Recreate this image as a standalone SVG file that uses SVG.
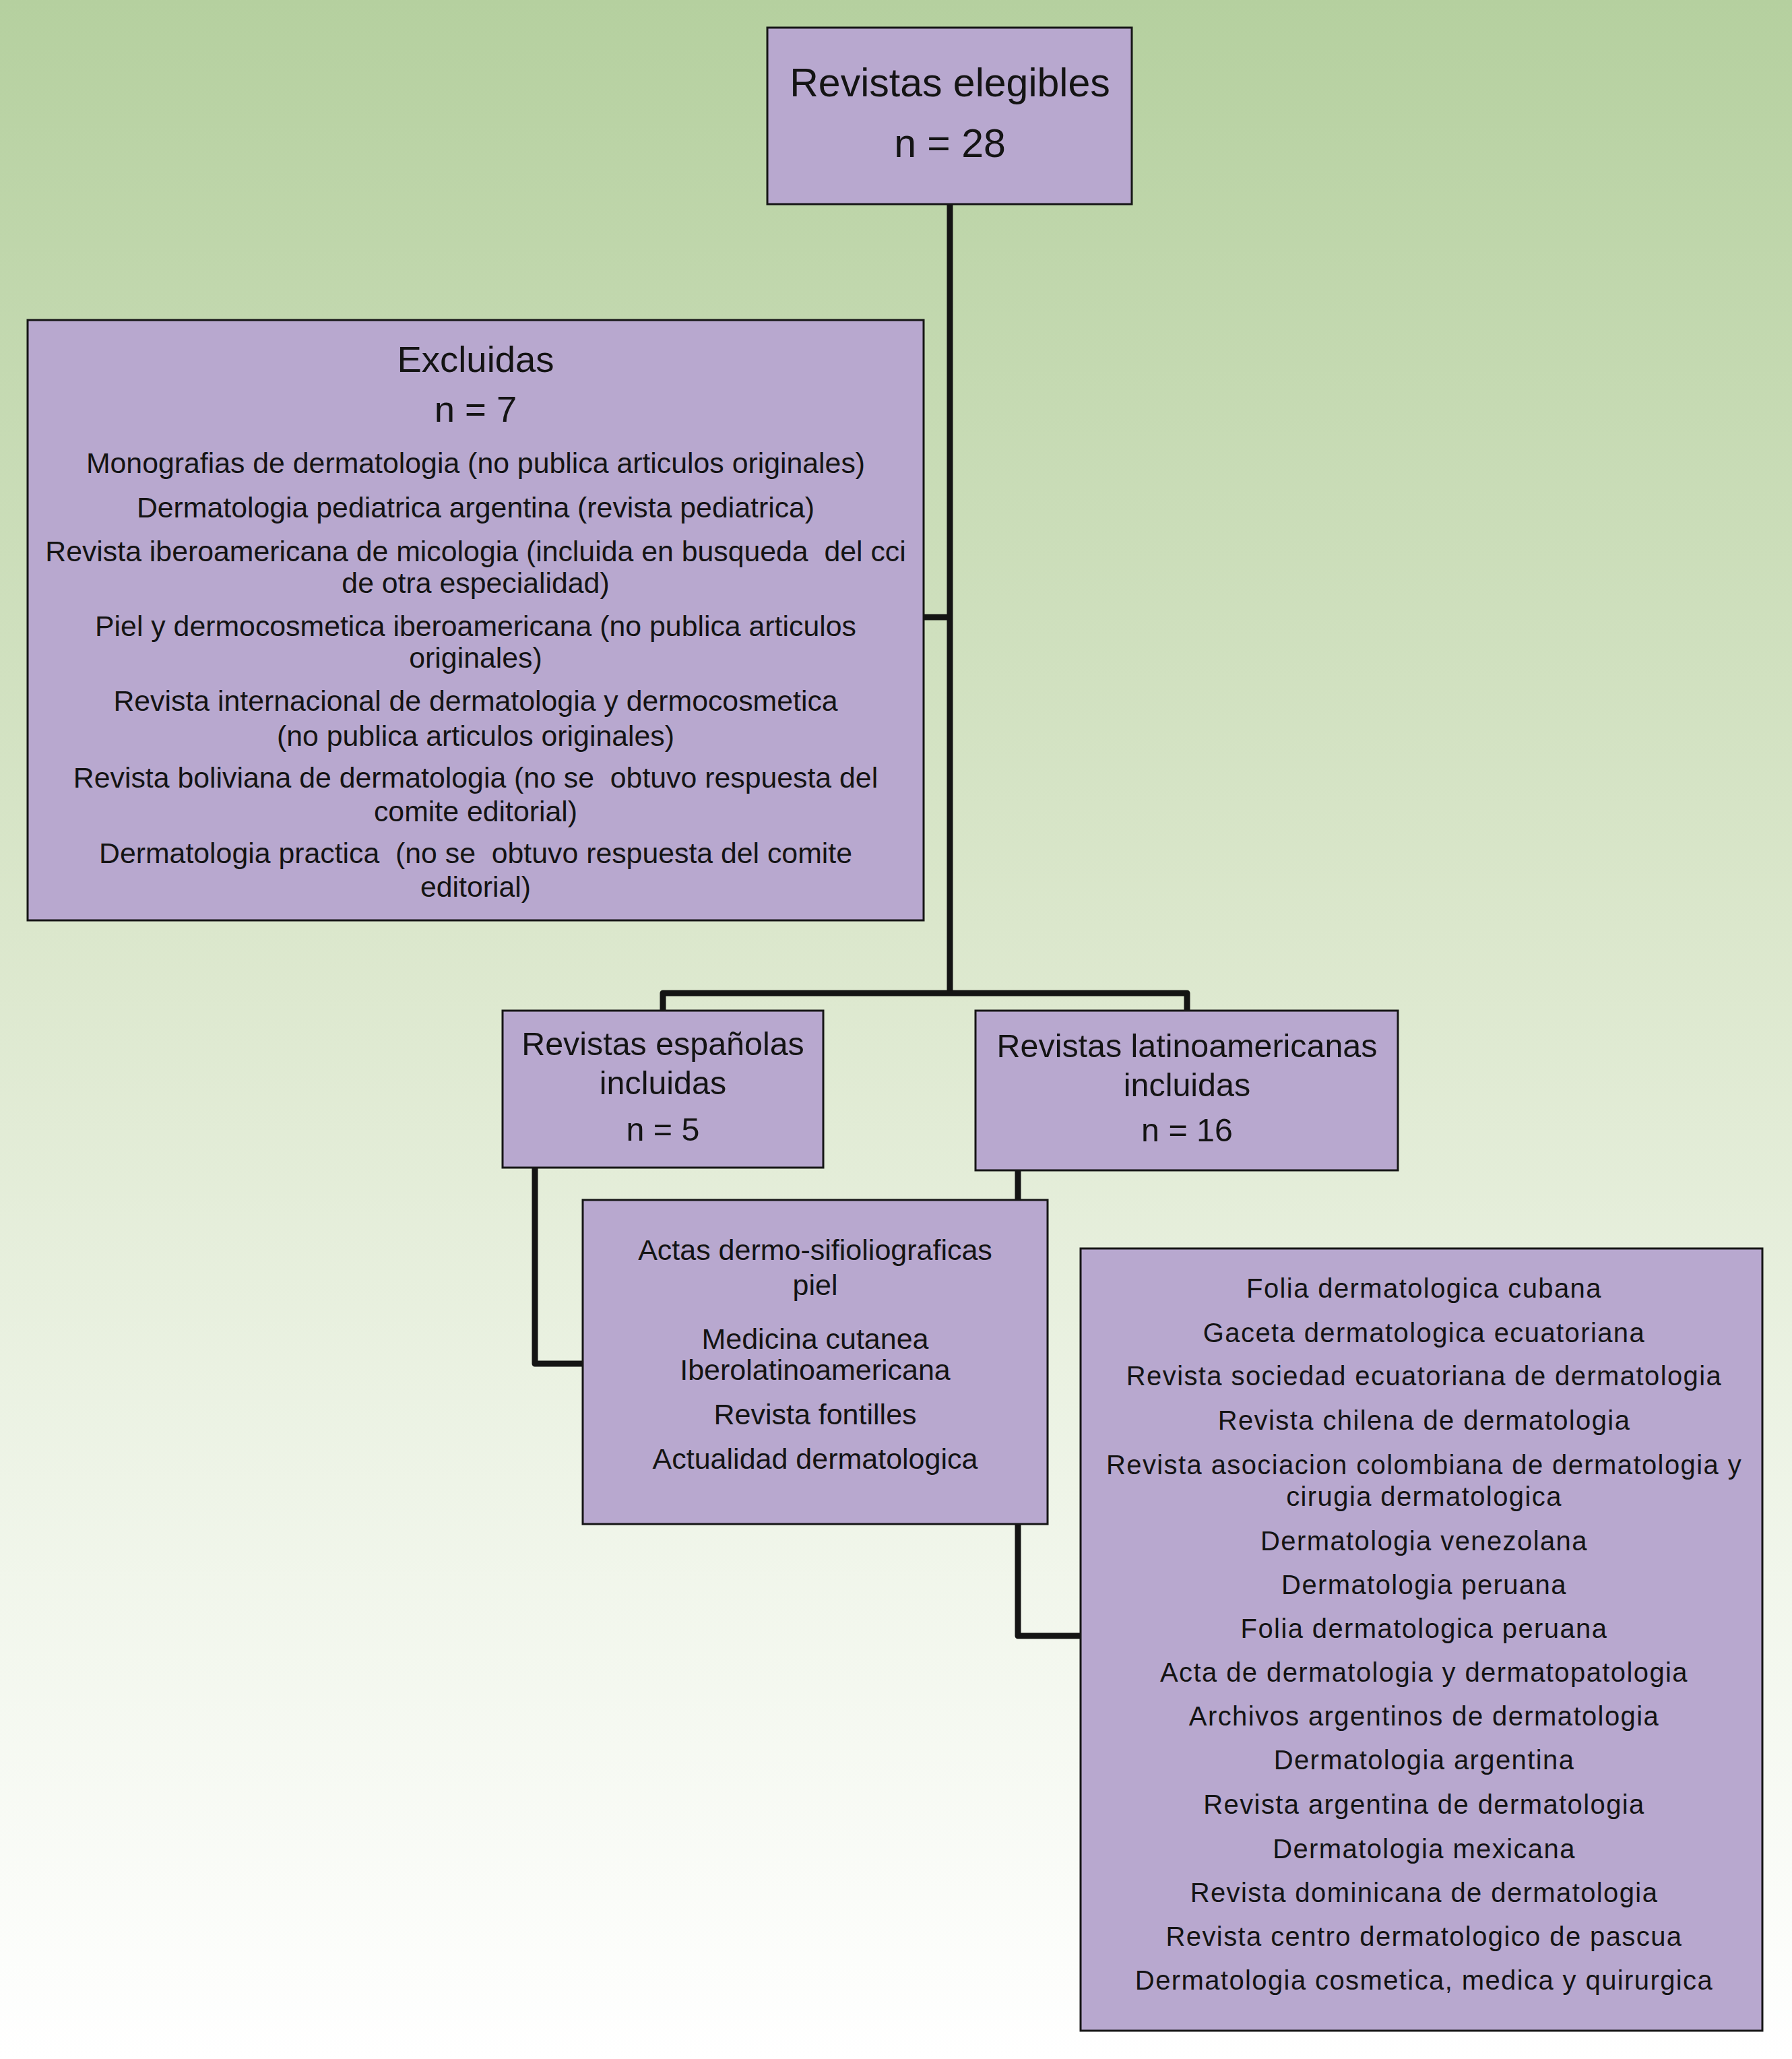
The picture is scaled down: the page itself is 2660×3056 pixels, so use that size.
<svg xmlns="http://www.w3.org/2000/svg" width="2660" height="3056" viewBox="0 0 2660 3056">
<defs>
<linearGradient id="bg" x1="0" y1="0" x2="0" y2="1">
<stop offset="0" stop-color="#b5d09f"/>
<stop offset="0.45" stop-color="#dbe7cc"/>
<stop offset="0.72" stop-color="#eef4e7"/>
<stop offset="1" stop-color="#ffffff"/>
</linearGradient>
<style>
.box{fill:#b8a8cf;stroke:#161616;stroke-width:3}
.conn{fill:none;stroke:#141414;stroke-width:9;stroke-linejoin:round;stroke-linecap:butt}
text{font-family:"Liberation Sans",Arial,Helvetica,sans-serif;fill:#141414;text-anchor:middle}
.t1{font-size:59px}
.t2{font-size:54.5px}
.t3{font-size:48.4px}
.ex{font-size:42.8px}
.sp{font-size:43px}
.la{font-size:40px;letter-spacing:1.4px}
</style>
</defs>
<rect x="0" y="0" width="2660" height="3056" fill="url(#bg)"/>
<g id="connectors">
<path class="conn" d="M1410 303 V1474"/>
<path class="conn" d="M1371 916 H1410"/>
<path class="conn" d="M984 1500 V1474 H1762 V1500"/>
<path class="conn" d="M794 1733 V2024 H865"/>
<path class="conn" d="M1511 1737 V2428 H1604"/>
</g>
<g id="node-elegibles">
<rect class="box" x="1139" y="41" width="541" height="262"/>
<text class="t1" x="1410" y="143">Revistas elegibles</text>
<text class="t1" x="1410" y="233">n = 28</text>
</g>
<g id="node-excluidas">
<rect class="box" x="41" y="475" width="1330" height="891"/>
<text class="t2" x="706" y="552">Excluidas</text>
<text class="t2" x="706" y="626">n = 7</text>
<text class="ex" x="706" y="702">Monografias de dermatologia (no publica articulos originales)</text>
<text class="ex" x="706" y="768">Dermatologia pediatrica argentina (revista pediatrica)</text>
<text class="ex" x="706" y="833" xml:space="preserve">Revista iberoamericana de micologia (incluida en busqueda  del cci</text>
<text class="ex" x="706" y="880">de otra especialidad)</text>
<text class="ex" x="706" y="944">Piel y dermocosmetica iberoamericana (no publica articulos</text>
<text class="ex" x="706" y="991">originales)</text>
<text class="ex" x="706" y="1055">Revista internacional de dermatologia y dermocosmetica</text>
<text class="ex" x="706" y="1107">(no publica articulos originales)</text>
<text class="ex" x="706" y="1169" xml:space="preserve">Revista boliviana de dermatologia (no se  obtuvo respuesta del</text>
<text class="ex" x="706" y="1219">comite editorial)</text>
<text class="ex" x="706" y="1281" xml:space="preserve">Dermatologia practica  (no se  obtuvo respuesta del comite</text>
<text class="ex" x="706" y="1331">editorial)</text>
</g>
<g id="node-espanolas">
<rect class="box" x="746" y="1500" width="476" height="233"/>
<text class="t3" x="984" y="1566">Revistas españolas</text>
<text class="t3" x="984" y="1624">incluidas</text>
<text class="t3" x="984" y="1693">n = 5</text>
</g>
<g id="node-latinoamericanas">
<rect class="box" x="1448" y="1500" width="627" height="237"/>
<text class="t3" x="1762" y="1569">Revistas latinoamericanas</text>
<text class="t3" x="1762" y="1627">incluidas</text>
<text class="t3" x="1762" y="1694">n = 16</text>
</g>
<g id="node-lista-espanolas">
<rect class="box" x="865" y="1781" width="690" height="481"/>
<text class="sp" x="1210" y="1870">Actas dermo-sifioliograficas</text>
<text class="sp" x="1210" y="1922">piel</text>
<text class="sp" x="1210" y="2002">Medicina cutanea</text>
<text class="sp" x="1210" y="2048">Iberolatinoamericana</text>
<text class="sp" x="1210" y="2114">Revista fontilles</text>
<text class="sp" x="1210" y="2180">Actualidad dermatologica</text>
</g>
<g id="node-lista-latinoamericanas">
<rect class="box" x="1604" y="1853" width="1012" height="1161"/>
<text class="la" x="2114" y="1926">Folia dermatologica cubana</text>
<text class="la" x="2114" y="1992">Gaceta dermatologica ecuatoriana</text>
<text class="la" x="2114" y="2056">Revista sociedad ecuatoriana de dermatologia</text>
<text class="la" x="2114" y="2122">Revista chilena de dermatologia</text>
<text class="la" x="2114" y="2188">Revista asociacion colombiana de dermatologia y</text>
<text class="la" x="2114" y="2235">cirugia dermatologica</text>
<text class="la" x="2114" y="2301">Dermatologia venezolana</text>
<text class="la" x="2114" y="2366">Dermatologia peruana</text>
<text class="la" x="2114" y="2431">Folia dermatologica peruana</text>
<text class="la" x="2114" y="2496">Acta de dermatologia y dermatopatologia</text>
<text class="la" x="2114" y="2561">Archivos argentinos de dermatologia</text>
<text class="la" x="2114" y="2626">Dermatologia argentina</text>
<text class="la" x="2114" y="2692">Revista argentina de dermatologia</text>
<text class="la" x="2114" y="2758">Dermatologia mexicana</text>
<text class="la" x="2114" y="2823">Revista dominicana de dermatologia</text>
<text class="la" x="2114" y="2888">Revista centro dermatologico de pascua</text>
<text class="la" x="2114" y="2953">Dermatologia cosmetica, medica y quirurgica</text>
</g>
</svg>
